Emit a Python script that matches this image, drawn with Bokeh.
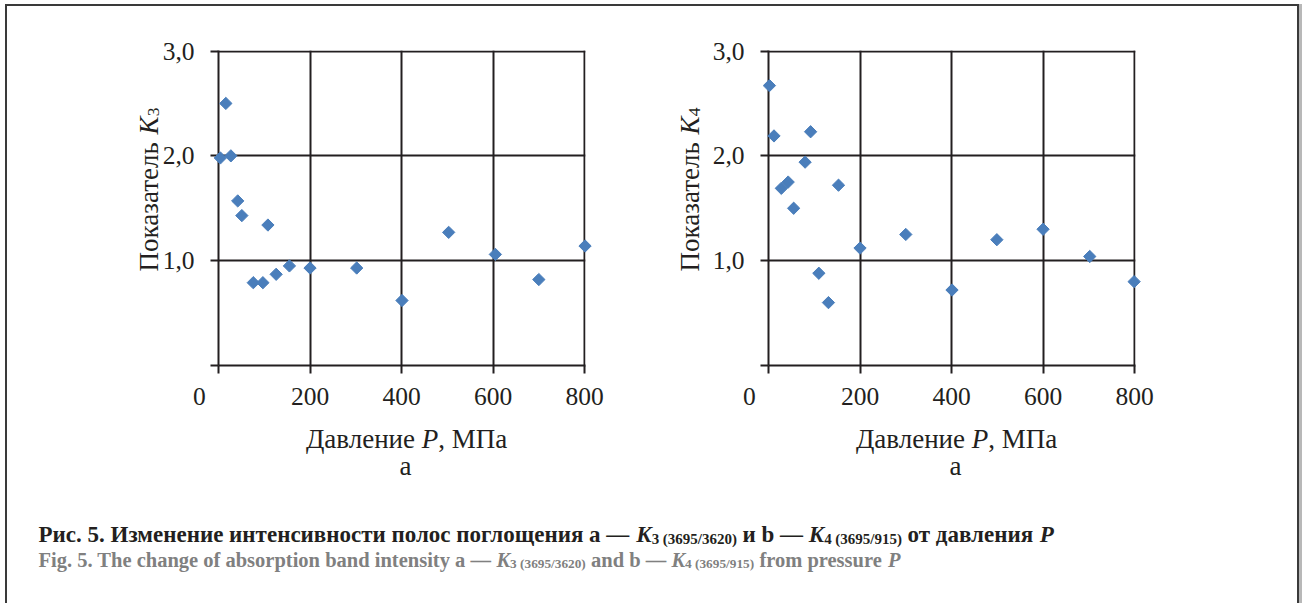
import math
from bokeh.plotting import figure
from bokeh.models import Range1d, FixedTicker, CustomJSTickFormatter
from bokeh.core.properties import value
from bokeh.layouts import column, row
from bokeh.embed import file_html
from bokeh.resources import INLINE

# ---------------- data ----------------
pressure_a = [4, 16, 27, 42, 51, 76, 97, 108, 126, 155, 200, 302, 401, 503, 605, 700, 801]
k3_values = [1.98, 2.50, 2.00, 1.57, 1.43, 0.79, 0.79, 1.34, 0.87, 0.95, 0.93, 0.93, 0.62, 1.27, 1.06, 0.82, 1.14]

pressure_b = [2, 12, 28, 43, 55, 80, 92, 110, 131, 153, 200, 300, 401, 499, 600, 702, 799]
k4_values = [2.67, 2.19, 1.69, 1.75, 1.50, 1.94, 2.23, 0.88, 0.60, 1.72, 1.12, 1.25, 0.72, 1.20, 1.30, 1.04, 0.80]

x_ticks = [0, 200, 400, 600, 800]
y_ticks = [0, 1, 2, 3]

x_title = [("Давление ", "normal"), ("P", "italic"), (", МПа", "normal")]
y_title_a = [("Показатель ", "normal"), ("K", "italic"), ("3", "sub")]
y_title_b = [("Показатель ", "normal"), ("K", "italic"), ("4", "sub")]
panel_letter = [("а", "normal")]

caption_ru = [("Рис. 5. Изменение интенсивности полос поглощения а — ", "bold"), ("K", "bold italic"),
              ("3", "bsub"), (" (3695/3620)", "bsub"), (" и b — ", "bold"), ("K", "bold italic"),
              ("4", "bsub"), (" (3695/915)", "bsub"), (" от давления ", "bold"), ("P", "bold italic")]
caption_en = [("Fig. 5. The change of absorption band intensity a — ", "bold"), ("K", "bold italic"),
              ("3", "bsub"), (" (3695/3620)", "bsub"), (" and b — ", "bold"), ("K", "bold italic"),
              ("4", "bsub"), (" (3695/915)", "bsub"), (" from pressure ", "bold"), ("P", "bold italic")]

# ---------------- styling ----------------
FONT = "Liberation Serif"
INK = "#231f20"
BLUE = "#4A7EBB"
GRAY = "#808080"

# Times / Liberation Serif advance widths (em)
COMMON = {' ': .25, ',': .25, '.': .25, '(': .333, ')': .333, '/': .278, '—': 1.0}
for d in "0123456789":
    COMMON[d] = .5
REG = dict(COMMON, **{'Д': .667, 'П': .722, 'М': .889, 'а': .444, 'в': .469, 'е': .444, 'з': .395,
                      'и': .535, 'к': .483, 'л': .5, 'н': .535, 'о': .5, 'т': .437, 'ь': .456, 'я': .5,
                      'P': .556})
ITA = dict(COMMON, **{'P': .611, 'K': .667})
BOLD = dict(COMMON, **{'Р': .611, 'И': .778, 'а': .5, 'б': .5, 'в': .537, 'г': .441, 'д': .535, 'е': .444,
                       'з': .43, 'и': .576, 'й': .576, 'к': .563, 'л': .551, 'м': .693, 'н': .576, 'о': .5,
                       'п': .576, 'р': .556, 'с': .444, 'т': .473, 'у': .5, 'щ': .838, 'я': .556, 'ы': .785,
                       'F': .611, 'T': .667, 'a': .5, 'b': .556, 'c': .444, 'd': .556, 'e': .444, 'f': .333,
                       'g': .5, 'h': .556, 'i': .278, 'm': .833, 'n': .556, 'o': .5, 'p': .556, 'r': .444,
                       's': .389, 't': .333, 'u': .556, 'y': .5})
BITA = dict(BOLD, **{'K': .667, 'P': .611})


def text_width(text, table, size):
    return sum(table.get(c, .5) for c in text) * size


def style_info(style, size):
    """returns (table, font_style, font_size, drop)"""
    if style == "normal":
        return REG, "normal", size, 0
    if style == "italic":
        return ITA, "italic", size, 0
    if style == "sub":
        return REG, "normal", size * 0.65, size * 0.2
    if style == "bold":
        return BOLD, "bold", size, 0
    if style == "bold italic":
        return BITA, "bold italic", size, 0
    if style == "bsub":
        return BOLD, "bold", size * 0.65, size * 0.2
    raise ValueError(style)


def rich_text(p, segs, x0, y0, size, color, sx=1.0, sy=1.0, centered=False, vertical=False,
              align="left"):
    """Mixed-style text drawn as text glyphs; x0/y0 anchor in data units,
    offsets computed in pixels and converted with sx/sy (data units per pixel)."""
    infos = [(t,) + style_info(s, size) for t, s in segs]
    total = sum(text_width(t, tab, sz) for t, tab, _, sz, _ in infos)
    cum = -total / 2 if centered else 0.0
    for t, tab, fstyle, sz, drop in infos:
        lead = len(t) - len(t.lstrip(' '))
        start = cum + text_width(t[:lead], tab, sz)
        if vertical:
            x, y, ang = x0 + drop * sx, y0 + start * sy, math.pi / 2
        else:
            x, y, ang = x0 + start * sx, y0 - drop * sy, 0
        p.text(x=[x], y=[y], text=[t.strip(' ')], angle=ang,
               text_font=value(FONT), text_font_size=value(f"{sz:.1f}px"), text_font_style=fstyle,
               text_color=color, text_align=align, text_baseline="alphabetic", level="overlay")
        cum += text_width(t, tab, sz)


PANEL_H = 480
FRAME_W = 367
FRAME_H = 315
TOP = 44
BOTTOM = PANEL_H - TOP - FRAME_H
X_END = 802
Y_END = 3.005
SX = X_END / FRAME_W   # data units per pixel
SY = Y_END / FRAME_H


def panel(xs, ys, y_title, fig_w, left, ytitle_dx):
    right = fig_w - left - FRAME_W
    p = figure(width=fig_w, height=PANEL_H, x_range=Range1d(0, X_END), y_range=Range1d(0, Y_END),
               output_backend="svg", toolbar_location=None,
               min_border_left=left, min_border_right=right, min_border_top=TOP, min_border_bottom=BOTTOM)
    p.outline_line_color = None
    p.background_fill_color = "white"
    p.border_fill_color = "white"

    xa, ya = p.xaxis[0], p.yaxis[0]
    xa.ticker = FixedTicker(ticks=x_ticks)
    ya.ticker = FixedTicker(ticks=y_ticks)
    nb = "\\u00a0" * 6
    xa.formatter = CustomJSTickFormatter(code=f"return tick == 0 ? '0{nb}' : tick.toFixed(0);")
    ya.formatter = CustomJSTickFormatter(code="return tick == 0 ? '' : tick.toFixed(1).replace('.', ',');")
    for ax in (xa, ya):
        ax.axis_line_color = INK
        ax.axis_line_width = 2
        ax.major_tick_line_color = INK
        ax.major_tick_line_width = 2
        ax.major_tick_out = 8
        ax.major_tick_in = 0
        ax.minor_tick_out = 0
        ax.minor_tick_in = 0
        ax.major_label_text_font = FONT
        ax.major_label_text_font_size = "25.5px"
        ax.major_label_text_color = INK
    xa.major_label_standoff = 8
    ya.major_label_standoff = 16

    for g in (p.xgrid[0], p.ygrid[0]):
        g.grid_line_color = INK
        g.grid_line_width = 2

    p.scatter(xs, ys, marker="square", angle=math.pi / 4, size=8.7,
              fill_color=BLUE, line_color=BLUE, level="overlay")

    mid = (x_ticks[0] + x_ticks[-1]) / 2
    rich_text(p, x_title, mid + 5 * SX, -73 * SY, 27, INK, SX, SY, centered=True)
    rich_text(p, panel_letter, mid + 4 * SX, -100 * SY, 27, INK, SX, SY, align="center")
    rich_text(p, y_title, ytitle_dx * SX, 176 * SY, 27, INK, SX, SY, centered=True, vertical=True)
    return p


pa = panel(pressure_a, k3_values, y_title_a, 632, 211, -70)
pb = panel(pressure_b, k4_values, y_title_b, 658, 129, -79)

CAP_W, CAP_H = 1290, 117
pc = figure(width=CAP_W, height=CAP_H, x_range=Range1d(0, CAP_W), y_range=Range1d(0, CAP_H),
            output_backend="svg", toolbar_location=None, x_axis_location=None, y_axis_location=None,
            min_border=0)
pc.outline_line_color = None
pc.xgrid.visible = False
pc.ygrid.visible = False
pc.background_fill_color = "white"
pc.border_fill_color = "white"
rich_text(pc, caption_ru, 31, CAP_H - 48, 23, INK)
rich_text(pc, caption_en, 31, CAP_H - 73, 20.5, GRAY)

layout = column(row(pa, pb), pc,
                styles={"border": "2px solid #3a3a3a", "border-bottom": "none",
                        "box-shadow": "3px 0 0 #b8b8b8",
                        "margin-left": "5px", "margin-top": "4px"})

open("out.html", "w").write(file_html(layout, INLINE))
